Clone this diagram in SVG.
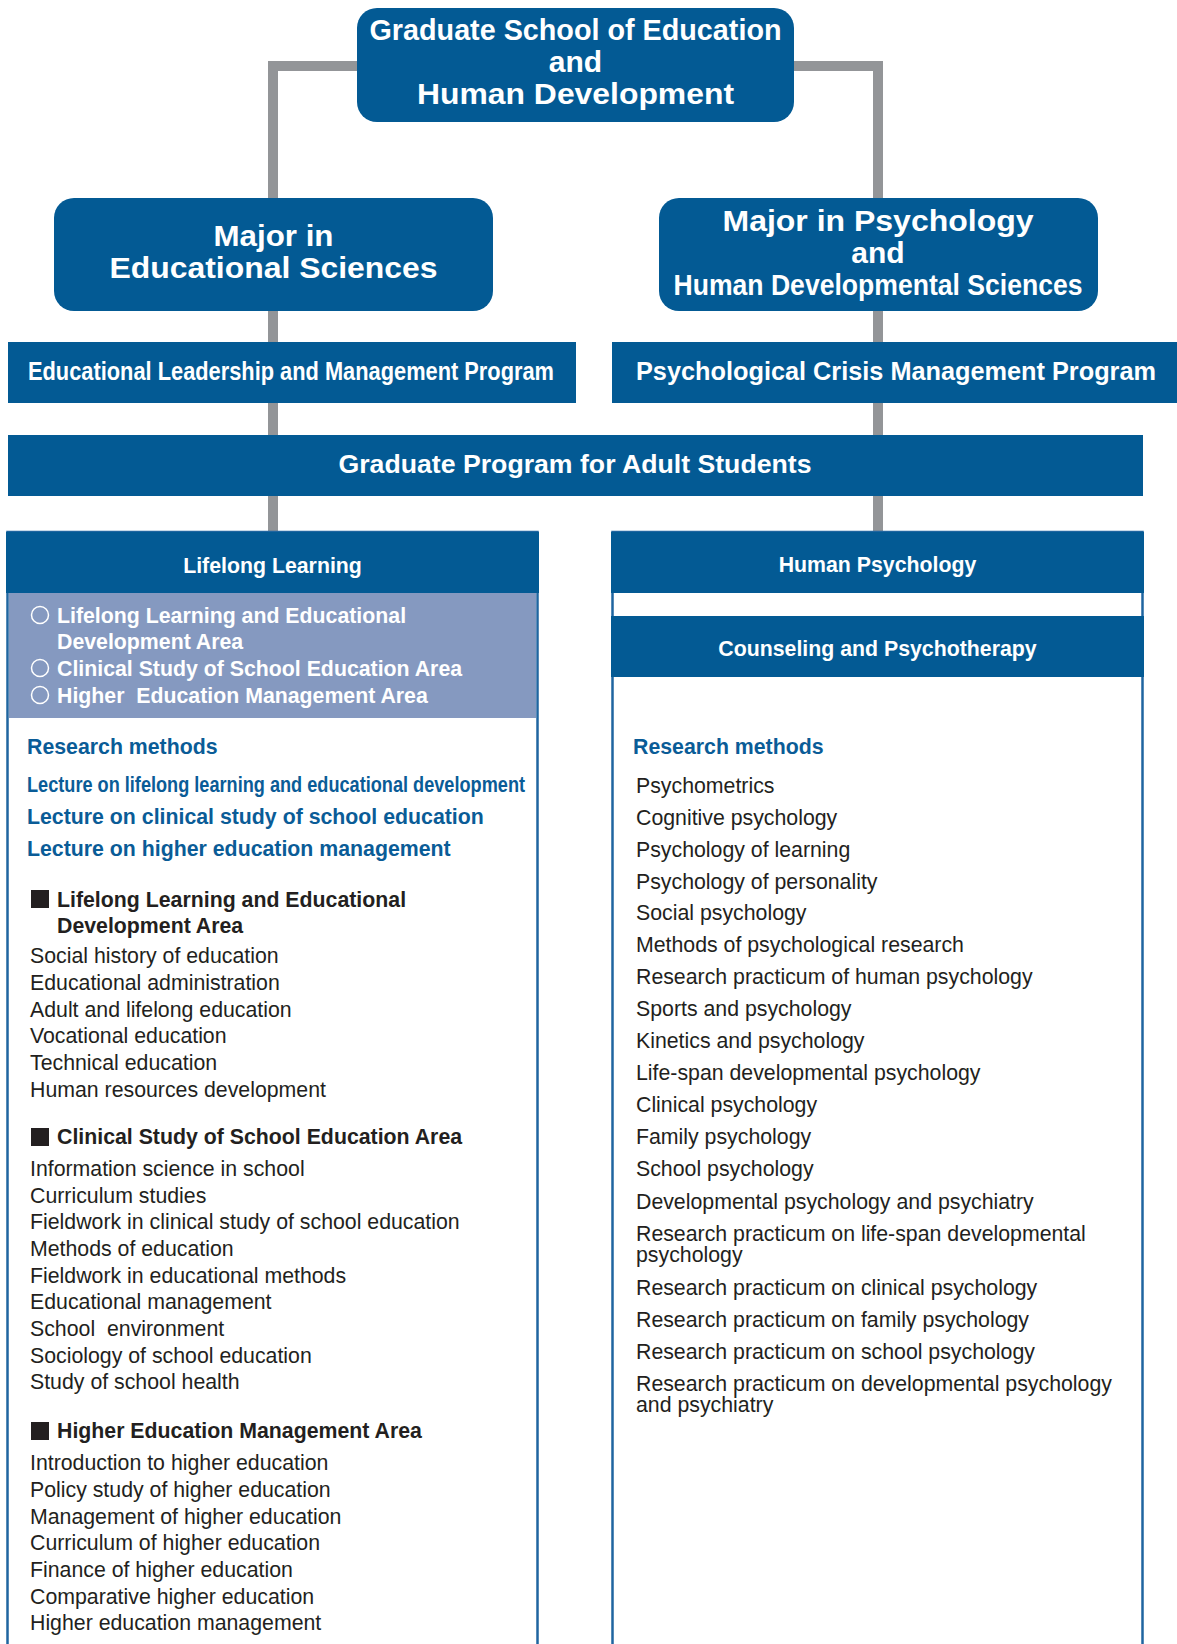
<svg xmlns="http://www.w3.org/2000/svg" width="1177" height="1644" viewBox="0 0 1177 1644">
<style>
text{font-family:"Liberation Sans",Arial,Helvetica,sans-serif}
.conn{stroke:#939598;stroke-width:10;fill:none}
.box{fill:#035a94}
.wt{fill:#fff;font-weight:bold;text-anchor:middle}
.hd{fill:#fff;font-weight:bold;font-size:21.3px;text-anchor:middle}
.lt{fill:#fff;font-weight:bold;font-size:21.3px}
.rm{fill:#0a5c97;font-weight:bold;font-size:21.3px}
.ah{fill:#231f20;font-weight:bold;font-size:21.3px}
.it{fill:#231f20;font-size:21.3px}
.panel{fill:#fff;stroke:#1f65a0;stroke-width:2.5}
</style>
<g id="connectors">
<path class="conn" d="M273 198 V66 H357"/>
<path class="conn" d="M794 66 H878 V198"/>
<line class="conn" x1="273" y1="311" x2="273" y2="342"/>
<line class="conn" x1="878" y1="311" x2="878" y2="342"/>
<line class="conn" x1="273" y1="403" x2="273" y2="435"/>
<line class="conn" x1="878" y1="403" x2="878" y2="435"/>
<line class="conn" x1="273" y1="496" x2="273" y2="532"/>
<line class="conn" x1="878" y1="496" x2="878" y2="532"/>
</g>
<g id="root">
<rect class="box" x="357" y="8" width="437" height="114" rx="20"/>
<text class="wt" font-size="30" x="575.5" y="40" textLength="412" lengthAdjust="spacingAndGlyphs">Graduate School of Education</text>
<text class="wt" font-size="30" x="575.5" y="72">and</text>
<text class="wt" font-size="30" x="575.5" y="104" textLength="317" lengthAdjust="spacingAndGlyphs">Human Development</text>
</g>
<g id="major-edu">
<rect class="box" x="54" y="198" width="439" height="113" rx="20"/>
<text class="wt" font-size="30" x="273.5" y="246" textLength="120" lengthAdjust="spacingAndGlyphs">Major in</text>
<text class="wt" font-size="30" x="273.5" y="278" textLength="328" lengthAdjust="spacingAndGlyphs">Educational Sciences</text>
</g>
<g id="major-psy">
<rect class="box" x="659" y="198" width="439" height="113" rx="20"/>
<text class="wt" font-size="30" x="878" y="231" textLength="311" lengthAdjust="spacingAndGlyphs">Major in Psychology</text>
<text class="wt" font-size="30" x="878" y="263">and</text>
<text class="wt" font-size="30" x="878" y="295" textLength="409" lengthAdjust="spacingAndGlyphs">Human Developmental Sciences</text>
</g>
<g id="prog-edu">
<rect class="box" x="8" y="342" width="568" height="61"/>
<text class="wt" font-size="25" x="291" y="380" textLength="526" lengthAdjust="spacingAndGlyphs">Educational Leadership and Management Program</text>
</g>
<g id="prog-psy">
<rect class="box" x="612" y="342" width="565" height="61"/>
<text class="wt" font-size="25" x="896" y="380" textLength="520" lengthAdjust="spacingAndGlyphs">Psychological Crisis Management Program</text>
</g>
<g id="prog-adult">
<rect class="box" x="8" y="435" width="1135" height="61"/>
<text class="wt" font-size="26" x="575" y="473" textLength="473" lengthAdjust="spacingAndGlyphs">Graduate Program for Adult Students</text>
</g>
<g id="lifelong">
<rect class="panel" x="7.5" y="532" width="530" height="1140"/>
<rect class="box" x="6" y="532" width="533" height="61"/>
<text class="hd" x="272.5" y="573">Lifelong Learning</text>
<rect x="9" y="593" width="527" height="125" fill="#8599c0"/>
<g fill="none" stroke="#fff" stroke-width="1.5">
<circle cx="40" cy="615" r="8.5"/>
<circle cx="40" cy="668" r="8.5"/>
<circle cx="40" cy="695" r="8.5"/>
</g>
<text class="lt" x="57" y="623">Lifelong Learning and Educational</text>
<text class="lt" x="57" y="649">Development Area</text>
<text class="lt" x="57" y="676">Clinical Study of School Education Area</text>
<text class="lt" x="57" y="703" xml:space="preserve">Higher  Education Management Area</text>
<text class="rm" x="27" y="754">Research methods</text>
<text class="rm" x="27" y="792" textLength="498" lengthAdjust="spacingAndGlyphs">Lecture on lifelong learning and educational development</text>
<text class="rm" x="27" y="824">Lecture on clinical study of school education</text>
<text class="rm" x="27" y="856">Lecture on higher education management</text>
<g fill="#231f20">
<rect x="31" y="890" width="18" height="18"/>
<rect x="31" y="1128" width="18" height="18"/>
<rect x="31" y="1422" width="18" height="18"/>
</g>
<text class="ah" x="57" y="907">Lifelong Learning and Educational</text>
<text class="ah" x="57" y="933">Development Area</text>
<text class="it" x="30" y="963">Social history of education</text>
<text class="it" x="30" y="990">Educational administration</text>
<text class="it" x="30" y="1017">Adult and lifelong education</text>
<text class="it" x="30" y="1043">Vocational education</text>
<text class="it" x="30" y="1070">Technical education</text>
<text class="it" x="30" y="1097">Human resources development</text>
<text class="ah" x="57" y="1144">Clinical Study of School Education Area</text>
<text class="it" x="30" y="1176">Information science in school</text>
<text class="it" x="30" y="1203">Curriculum studies</text>
<text class="it" x="30" y="1229">Fieldwork in clinical study of school education</text>
<text class="it" x="30" y="1256">Methods of education</text>
<text class="it" x="30" y="1283">Fieldwork in educational methods</text>
<text class="it" x="30" y="1309">Educational management</text>
<text class="it" x="30" y="1336" xml:space="preserve">School  environment</text>
<text class="it" x="30" y="1363">Sociology of school education</text>
<text class="it" x="30" y="1389">Study of school health</text>
<text class="ah" x="57" y="1438">Higher Education Management Area</text>
<text class="it" x="30" y="1470">Introduction to higher education</text>
<text class="it" x="30" y="1497">Policy study of higher education</text>
<text class="it" x="30" y="1524">Management of higher education</text>
<text class="it" x="30" y="1550">Curriculum of higher education</text>
<text class="it" x="30" y="1577">Finance of higher education</text>
<text class="it" x="30" y="1604">Comparative higher education</text>
<text class="it" x="30" y="1630">Higher education management</text>
</g>
<g id="human-psychology">
<rect class="panel" x="612.5" y="532" width="530" height="1140"/>
<rect class="box" x="611" y="532" width="533" height="61"/>
<text class="hd" x="877.5" y="572">Human Psychology</text>
<rect class="box" x="611" y="616" width="533" height="61"/>
<text class="hd" x="877.5" y="656">Counseling and Psychotherapy</text>
<text class="rm" x="633" y="754">Research methods</text>
<text class="it" x="636" y="793">Psychometrics</text>
<text class="it" x="636" y="825">Cognitive psychology</text>
<text class="it" x="636" y="857">Psychology of learning</text>
<text class="it" x="636" y="889">Psychology of personality</text>
<text class="it" x="636" y="920">Social psychology</text>
<text class="it" x="636" y="952">Methods of psychological research</text>
<text class="it" x="636" y="984">Research practicum of human psychology</text>
<text class="it" x="636" y="1016">Sports and psychology</text>
<text class="it" x="636" y="1048">Kinetics and psychology</text>
<text class="it" x="636" y="1080">Life-span developmental psychology</text>
<text class="it" x="636" y="1112">Clinical psychology</text>
<text class="it" x="636" y="1144">Family psychology</text>
<text class="it" x="636" y="1176">School psychology</text>
<text class="it" x="636" y="1209">Developmental psychology and psychiatry</text>
<text class="it" x="636" y="1241">Research practicum on life-span developmental</text>
<text class="it" x="636" y="1262">psychology</text>
<text class="it" x="636" y="1295">Research practicum on clinical psychology</text>
<text class="it" x="636" y="1327">Research practicum on family psychology</text>
<text class="it" x="636" y="1359">Research practicum on school psychology</text>
<text class="it" x="636" y="1391">Research practicum on developmental psychology</text>
<text class="it" x="636" y="1412">and psychiatry</text>
</g>
</svg>
